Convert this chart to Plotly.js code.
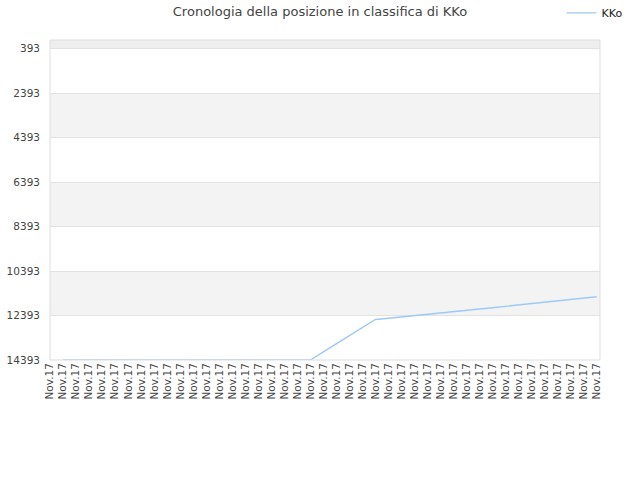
<!DOCTYPE html>
<html>
<head>
<meta charset="utf-8">
<script src="https://cdn.plot.ly/plotly-3.0.1.min.js"></script>
<style>
  html, body { margin: 0; padding: 0; background: #fff; }
  #chart { width: 640px; height: 480px; }
</style>
</head>
<body>
<div id="chart"></div>
<script>
// Chart data
const chartTitle = 'Cronologia della posizione in classifica di KKo';
const seriesName = 'KKo';
const dateLabels = [
  'Nov.17', 'Nov.17', 'Nov.17', 'Nov.17', 'Nov.17', 'Nov.17', 'Nov.17', 'Nov.17', 'Nov.17',
  'Nov.17', 'Nov.17', 'Nov.17', 'Nov.17', 'Nov.17', 'Nov.17', 'Nov.17', 'Nov.17', 'Nov.17',
  'Nov.17', 'Nov.17', 'Nov.17', 'Nov.17', 'Nov.17', 'Nov.17', 'Nov.17', 'Nov.17', 'Nov.17',
  'Nov.17', 'Nov.17', 'Nov.17', 'Nov.17', 'Nov.17', 'Nov.17', 'Nov.17', 'Nov.17', 'Nov.17',
  'Nov.17', 'Nov.17', 'Nov.17', 'Nov.17', 'Nov.17', 'Nov.17', 'Nov.17'
];
const ranks = [
  null,
  14393, 14393, 14393, 14393, 14393, 14393, 14393, 14393, 14393, 14393,
  14393, 14393, 14393, 14393, 14393, 14393, 14393, 14393, 14393, 14393,
  14030, 13660, 13300, 12935,
  12570, 12515, 12460, 12400, 12340, 12280, 12220, 12160, 12100,
  12040, 11980, 11920, 11860, 11800, 11740, 11680, 11610, 11545
];
const yTickVals = [393, 2393, 4393, 6393, 8393, 10393, 12393, 14393];
const yBottom = 14393;
const yTop = 1;

// x positions are just the label indices (labels repeat, so no category axis)
let xs = [];
for (let i = 0; i < dateLabels.length; i++) {
  xs.push(i);
}

// alternating grey bands behind the plot
let bandEdges = [yTop].concat(yTickVals);
let shapes = [];
for (let i = 0; i < bandEdges.length - 1; i++) {
  if (i % 2 == 0) {
    shapes.push({
      type: 'rect', xref: 'paper', yref: 'y', layer: 'below',
      x0: 0, x1: 1, y0: bandEdges[i], y1: bandEdges[i + 1],
      fillcolor: i == 0 ? '#eeeeee' : '#f3f3f3', line: {width: 0}
    });
  }
}
// plot frame
shapes.push({
  type: 'rect', xref: 'paper', yref: 'paper', layer: 'above',
  x0: 0, x1: 1, y0: 0, y1: 1,
  line: {color: '#dddddd', width: 1}
});

const trace = {
  x: xs, y: ranks, name: seriesName,
  type: 'scatter', mode: 'lines',
  line: {color: '#9ccaf5', width: 1.4},
  connectgaps: false
};

const layout = {
  width: 640, height: 480,
  margin: {l: 50, r: 40, t: 40, b: 120, autoexpand: false},
  paper_bgcolor: '#ffffff', plot_bgcolor: '#ffffff',
  font: {family: 'DejaVu Sans, sans-serif', size: 11, color: '#444'},
  title: {
    text: chartTitle, x: 0.5, xanchor: 'center', y: 0.985, yanchor: 'top',
    font: {family: 'DejaVu Sans, sans-serif', size: 13, color: '#444'}
  },
  showlegend: true,
  legend: {
    x: 1.05, xanchor: 'right', y: 1.13, yanchor: 'top',
    font: {size: 11, color: '#222'}, bgcolor: 'rgba(0,0,0,0)'
  },
  xaxis: {
    range: [0, 42.25], automargin: false,
    tickmode: 'array', tickvals: xs, ticktext: dateLabels,
    tickangle: -90, showgrid: false, zeroline: false, showline: false,
    ticks: '', tickfont: {size: 10.5, color: '#444'}
  },
  yaxis: {
    range: [yBottom, yTop], automargin: false,
    tickmode: 'array', tickvals: yTickVals,
    ticktext: yTickVals.map(String),
    showgrid: true, gridcolor: '#e2e2e2', gridwidth: 1,
    zeroline: false, showline: false, ticks: '',
    ticklabelstandoff: 9,
    tickfont: {size: 10.5, color: '#444'}
  },
  shapes: shapes
};

Plotly.newPlot('chart', [trace], layout, {displayModeBar: false, staticPlot: true});
</script>
</body>
</html>
